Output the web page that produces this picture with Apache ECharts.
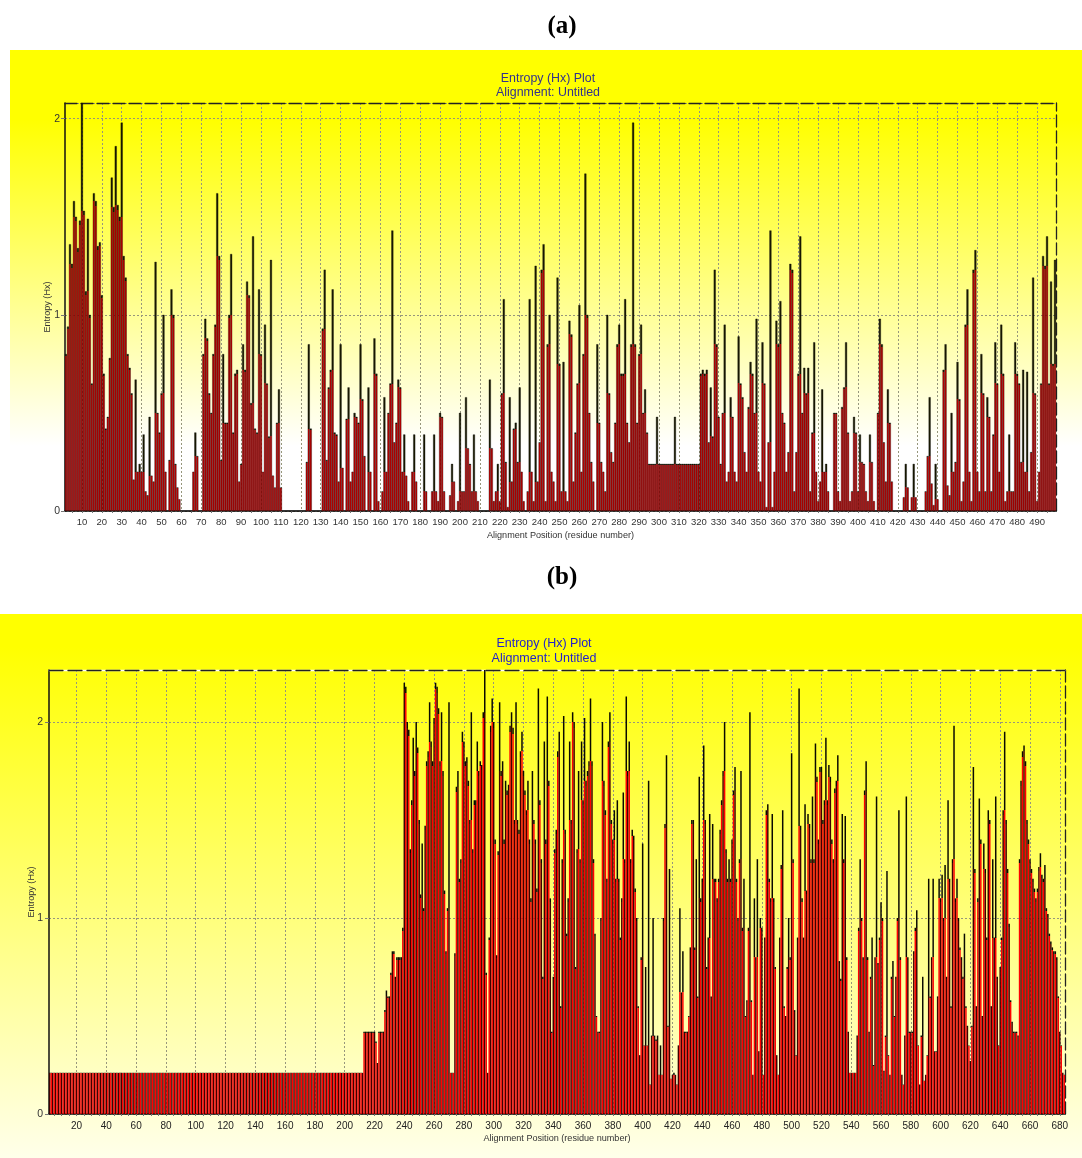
<!DOCTYPE html>
<html><head><meta charset="utf-8">
<script src="https://cdn.jsdelivr.net/npm/echarts@6/dist/echarts.min.js"></script>
<style>html,body{margin:0;padding:0;background:#fff}#c{width:1082px;height:1158px}</style></head>
<body><div id="c"></div>
<script>
// Panel (a): alignment positions 2..499
const aValues = [
.80,.94,1.36,1.26,1.58,1.5,1.34,1.48,
2.08,1.53,1.12,1.49,1.0,.65,1.62,1.58,1.35,1.37,
1.1,.7,.42,.48,.78,1.7,1.55,1.86,1.56,1.5,
1.98,1.3,1.19,.8,.73,.6,.16,.67,.2,.24,
.2,.39,.1,.08,.48,.18,.15,1.27,.5,.4,
.6,1.0,.2,0,.26,1.13,1.0,.24,.12,.06,
0,0,0,0,0,0,.2,.4,.28,0,
0,.8,.98,.88,.6,.5,.8,.95,1.62,1.3,
.26,.8,.45,.45,1.0,1.31,.4,.7,.72,.15,
.24,.85,.72,1.17,1.1,.55,1.4,.42,.4,1.13,
.8,.2,.95,.65,.38,1.28,.18,.12,.45,.62,
.12,0,0,0,0,0,0,0,0,0,
0,0,0,.25,.85,.42,0,0,0,0,
0,.93,1.23,.26,.63,.72,1.13,.4,.39,.15,
.85,.22,0,.47,.63,.15,.2,.5,.48,.45,
.85,.57,.28,0,.63,.2,0,.88,.7,.05,
0,.1,.58,.2,.5,.65,1.43,.35,.45,.67,
.63,.2,.39,.18,.05,0,.2,.39,.15,0,
0,0,.39,.1,0,0,.1,.39,.1,.05,
.5,.48,.1,0,0,.08,.24,.15,0,.05,
.5,.1,.1,.58,.32,.24,.1,.39,.1,.05,
0,0,0,0,0,.67,.32,.05,.1,.24,
.05,.6,1.08,.25,.02,.58,.15,.42,.45,.25,
.63,.2,.05,0,.1,1.08,.2,.05,1.25,.15,
.35,1.23,1.36,.05,.85,1.0,.2,.15,.05,1.19,
.75,.1,.76,.1,.05,.97,.9,.15,.4,.65,
1.05,.2,.8,1.72,1.0,.5,.25,.15,0,.85,
.45,.25,.2,.1,1.0,.6,.3,.25,.45,.85,
.95,.7,.7,1.08,.45,.35,.85,1.98,.85,.45,
.8,.95,.5,.62,.4,.24,.24,.24,.24,.48,
.24,.24,.24,.24,.24,.24,.24,.24,.48,.24,
.24,.24,.24,.24,.24,.24,.24,.24,.24,.24,
.24,.7,.72,.7,.72,.35,.63,.38,1.23,.85,
.48,.24,.5,.95,.15,.2,.58,.48,.2,.15,
.89,.65,.58,.3,.2,.53,.76,.7,.5,.98,
.2,.15,.86,.65,.02,.35,1.43,.02,.2,.97,
.85,1.07,.5,.45,.2,.3,1.26,1.23,.1,.3,
.7,1.4,.5,.73,.6,.73,.1,.4,.86,.2,
.05,.15,.62,.2,.24,.1,0,0,.5,.5,
.1,.05,.53,.63,.86,.4,.05,.1,.48,.4,
.1,.39,.25,.24,.1,.05,.39,.25,.05,0,
.5,.98,.85,.35,.15,.62,.45,.15,0,0,
0,0,0,.07,.24,.12,0,.07,.24,.07,
0,0,0,0,.1,.28,.58,.14,.03,.24,
.06,0,0,.72,.85,.13,.08,.5,.2,.25,
.76,.57,.05,.15,.95,1.13,.2,.05,1.23,1.33,
.2,.1,.8,.6,.1,.58,.48,.1,.39,.86,
.65,.2,.95,.7,.05,.1,.39,.1,.1,.86,
.7,.65,.25,.72,.2,.71,.1,.3,1.19,.6,
.05,.2,.65,1.3,1.25,1.4,.65,1.17,.75,1.28
];
// Panel (b): alignment positions 2..683
const bValues = [
.21,.21,.21,.21,.21,.21,.21,.21,
.21,.21,.21,.21,.21,.21,.21,.21,.21,.21,
.21,.21,.21,.21,.21,.21,.21,.21,.21,.21,
.21,.21,.21,.21,.21,.21,.21,.21,.21,.21,
.21,.21,.21,.21,.21,.21,.21,.21,.21,.21,
.21,.21,.21,.21,.21,.21,.21,.21,.21,.21,
.21,.21,.21,.21,.21,.21,.21,.21,.21,.21,
.21,.21,.21,.21,.21,.21,.21,.21,.21,.21,
.21,.21,.21,.21,.21,.21,.21,.21,.21,.21,
.21,.21,.21,.21,.21,.21,.21,.21,.21,.21,
.21,.21,.21,.21,.21,.21,.21,.21,.21,.21,
.21,.21,.21,.21,.21,.21,.21,.21,.21,.21,
.21,.21,.21,.21,.21,.21,.21,.21,.21,.21,
.21,.21,.21,.21,.21,.21,.21,.21,.21,.21,
.21,.21,.21,.21,.21,.21,.21,.21,.21,.21,
.21,.21,.21,.21,.21,.21,.21,.21,.21,.21,
.21,.21,.21,.21,.21,.21,.21,.21,.21,.21,
.21,.21,.21,.21,.21,.21,.21,.21,.21,.21,
.21,.21,.21,.21,.21,.21,.21,.21,.21,.21,
.21,.21,.21,.21,.21,.21,.21,.21,.21,.21,
.21,.21,.21,.21,.21,.21,.21,.21,.21,.21,
.21,.21,.21,.42,.42,.42,.42,.42,.42,.42,
.42,.37,.26,.42,.42,.42,.42,.53,.63,.6,
.6,.72,.83,.83,.7,.8,.8,.8,.8,.95,
2.2,2.18,2.0,1.96,1.35,1.6,1.92,1.75,2.0,1.87,
1.5,1.12,1.38,1.05,1.47,1.8,1.85,2.1,1.9,1.8,
2.02,2.2,2.18,2.07,1.8,2.05,1.75,1.14,.83,1.05,
2.1,.21,.21,.21,.82,1.67,1.75,1.2,1.3,1.95,
1.9,1.8,1.82,1.7,1.5,2.05,1.35,1.6,1.6,1.9,
1.75,1.8,1.78,2.05,2.27,.72,.21,.9,1.98,2.12,
2.0,1.4,.81,1.34,2.1,1.75,1.8,1.4,1.7,1.65,
1.68,1.98,2.05,1.97,1.5,2.1,1.5,1.45,1.85,1.95,
1.75,1.65,1.55,1.7,1.4,1.1,1.75,1.5,1.4,1.15,
2.17,1.6,1.3,.7,1.9,1.4,2.13,1.7,1.1,.42,
.7,1.35,1.45,1.85,1.95,.55,1.3,2.03,1.45,.92,
1.1,1.9,1.5,2.05,2.0,.75,1.35,1.75,1.3,1.9,
1.6,2.02,1.7,1.75,1.8,2.12,1.8,1.3,.92,.5,
.42,.42,1.0,2.0,1.7,1.55,1.2,1.9,2.05,1.5,
1.4,1.55,1.2,1.6,1.2,.9,1.1,1.64,1.3,2.13,
1.75,1.9,1.3,1.45,1.42,1.15,1.0,.55,.3,.8,
1.38,.35,.75,.35,1.7,.15,.4,1.0,.4,.38,
.4,.2,.35,.2,1.0,1.48,1.83,.45,1.25,.18,
.2,.21,.2,.15,.35,1.05,.62,.83,.42,.42,
.42,.5,.85,1.5,1.5,.85,1.3,.6,1.72,1.1,
1.2,1.88,1.5,.75,.9,1.53,.6,1.48,1.2,1.2,
1.1,1.2,1.45,1.6,1.75,2.0,1.35,1.2,1.3,1.2,
1.4,1.65,1.77,1.2,1.0,1.3,1.75,.95,1.2,.5,
.58,.95,2.05,.58,.2,1.1,.8,1.3,.32,1.0,
.95,.2,.9,1.55,1.58,1.2,1.1,1.53,1.1,.75,
.3,.2,.9,1.27,1.55,.55,.5,.75,1.0,.8,
1.84,1.3,.53,.3,.9,2.17,1.47,1.1,.9,1.58,
1.14,1.53,1.48,1.3,1.62,1.3,1.89,1.72,1.4,1.77,
1.77,1.5,1.6,1.92,1.6,1.78,1.72,1.4,1.3,1.66,
1.7,1.83,.78,.69,1.53,1.3,1.52,.8,.42,.21,
.21,.21,.21,.21,.4,.95,1.3,1.0,.8,1.65,
1.8,.8,.42,.7,.9,.25,.8,1.62,.77,.9,
1.08,1.0,.22,.4,1.24,.3,.2,.7,.78,.5,
.7,1.0,1.55,.8,.2,.15,.4,1.62,.8,.42,
.42,.42,.83,.95,1.04,.35,.15,.4,.7,.17,
.2,.3,1.2,.6,.8,1.2,.32,.32,.6,1.2,
1.1,1.22,1.0,1.27,.7,1.6,1.2,.55,1.3,1.98,
1.1,1.2,1.0,.85,.8,.7,.92,.55,.45,.35,
.27,.45,1.77,1.25,.55,1.1,1.61,1.4,.5,1.38,
1.25,.9,1.55,1.5,.55,1.3,.9,1.62,.7,.35,
.75,.9,1.55,1.95,1.5,1.25,.97,.58,.47,.42,
.42,.42,.4,1.3,1.7,1.85,1.88,1.8,1.5,1.4,
1.3,1.25,1.2,1.15,1.1,1.15,1.26,1.33,1.22,1.2,
1.27,1.05,1.02,.92,.88,.85,.83,.83,.8,.6,
.42,.35,.21,.2
];
const aCategories = aValues.map((_, i) => i + 2);
const bCategories = bValues.map((_, i) => i + 2);
const titleMain = 'Entropy (Hx) Plot';
const titleSub = 'Alignment: Untitled';
const xName = 'Alignment Position (residue number)';
const yName = 'Entropy (Hx)';
const yTicks = [0, 1, 2];

const FONT = '"Liberation Sans", Arial, sans-serif';
const chart = echarts.init(document.getElementById('c'), null, {renderer: 'canvas'});
const hiddenTop = (gridIndex, position, color, dash, data) => ({
  type: 'category', gridIndex, position, data, boundaryGap: true,
  axisLine: {show: true, onZero: false, lineStyle: {color, width: 1.3, type: dash}},
  axisTick: {show: false}, axisLabel: {show: false}, splitLine: {show: false}
});
function xMain(gridIndex, data, step, fontSize, labelColor) {
  const every = v => Number(v) % step === 0;
  return {
    type: 'category', gridIndex, data, position: 'bottom', boundaryGap: true,
    name: xName, nameLocation: 'middle', nameGap: 20, nameMoveOverlap: false,
    nameTextStyle: {fontFamily: FONT, fontSize: 9.1, color: '#333'},
    axisLine: {show: true, onZero: false, lineStyle: {color: '#111', width: 1.5}},
    axisTick: {show: true, alignWithLabel: true, length: 2, interval: (i, v) => Number(v) % 5 === 0, lineStyle: {color: '#777', width: 1}},
    axisLabel: {show: true, interval: (i, v) => every(v), fontFamily: FONT, fontSize, color: labelColor, margin: step === 10 ? 6 : 7, hideOverlap: false},
    splitLine: {show: true, alignWithLabel: true, interval: (i, v) => every(v), lineStyle: {color: '#96967c', width: 1, type: [2, 2]}}
  };
}
function yMain(gridIndex, max, margin) {
  return {
    type: 'value', gridIndex, position: 'left', min: 0, max, interval: yTicks[1] - yTicks[0],
    name: yName, nameLocation: 'middle', nameGap: 13, nameMoveOverlap: false,
    nameTextStyle: {fontFamily: FONT, fontSize: 9.1, color: '#333'},
    axisLine: {show: true, onZero: false, lineStyle: {color: '#111', width: 1.5}},
    axisTick: {show: true, length: 4, lineStyle: {color: '#777'}},
    axisLabel: {showMaxLabel: false, fontFamily: FONT, fontSize: 10.5, color: '#333', margin,
      formatter: v => yTicks.includes(v) ? String(v) : ''},
    splitLine: {show: true, lineStyle: {color: '#96967c', width: 1, type: [2, 2]}}
  };
}
const yRight = (gridIndex, max) => ({
  type: 'value', gridIndex, position: 'right', min: 0, max, interval: 1,
  axisLine: {show: true, onZero: false, lineStyle: {color: '#222', width: 1.3, type: [12, 4]}},
  axisTick: {show: false}, axisLabel: {show: false}, splitLine: {show: false}
});
// Bars are red with a dark tip where a bar stands above both neighbours (the reference's black outlines merge there).
function styled(values, redFor, tip) {
  return values.map((v, i) => {
    const red = redFor(i);
    if (!v) return {value: v, itemStyle: {color: red}};
    const base = Math.max(values[i - 1] || 0, values[i + 1] || 0);
    const f = Math.min(base / v, 0.985);
    return {value: v, itemStyle: {color: new echarts.graphic.LinearGradient(0, 0, 0, 1, [
      {offset: 0, color: tip}, {offset: 1 - f, color: tip},
      {offset: 1 - f, color: red}, {offset: 1, color: red}])}};
  });
}
chart.setOption({
  animation: false,
  backgroundColor: '#ffffff',
  graphic: [
    {type: 'rect', z: -10, silent: true, shape: {x: 10, y: 50, width: 1072, height: 495},
      style: {fill: new echarts.graphic.LinearGradient(0, 0, 0, 1, [
        {offset: 0, color: '#ffff00'}, {offset: 0.14, color: '#ffff00'}, {offset: 0.8, color: '#ffffff'}, {offset: 1, color: '#ffffff'}])}},
    {type: 'rect', z: -10, silent: true, shape: {x: 0, y: 614, width: 1082, height: 544},
      style: {fill: new echarts.graphic.LinearGradient(0, 0, 0, 1, [
        {offset: 0, color: '#ffff00'}, {offset: 0.06, color: '#ffff00'}, {offset: 1, color: '#ffffea'}])}}
  ],
  title: [
    {text: '(a)', left: 557, top: 9, textAlign: 'center', textStyle: {fontFamily: '"Liberation Serif", serif', fontWeight: 'bold', fontSize: 25, color: '#000'}},
    {text: '(b)', left: 557, top: 560, textAlign: 'center', textStyle: {fontFamily: '"Liberation Serif", serif', fontWeight: 'bold', fontSize: 25, color: '#000'}},
    {text: titleMain + '\n' + titleSub, left: 543, top: 66, textAlign: 'center', textStyle: {fontFamily: FONT, fontWeight: 'normal', fontSize: 12.4, lineHeight: 14.5, color: '#33338c'}},
    {text: titleMain + '\n' + titleSub, left: 539, top: 631, textAlign: 'center', textStyle: {fontFamily: FONT, fontWeight: 'normal', fontSize: 12.5, lineHeight: 15, color: '#2222cc'}}
  ],
  grid: [
    {left: 65, top: 103, width: 991, height: 408},
    {left: 49, top: 670, width: 1016, height: 444}
  ],
  xAxis: [
    xMain(0, aCategories, 10, 9.5, '#333'),
    hiddenTop(0, 'top', '#222', [12, 4], aCategories),
    xMain(1, bCategories, 20, 10, '#222'),
    hiddenTop(1, 'top', '#ffffff', 'solid', bCategories),
    hiddenTop(1, 'top', '#222', [14, 5], bCategories)
  ],
  yAxis: [yMain(0, 2.08, 5), yRight(0, 2.08), yMain(1, 2.265, 6), yRight(1, 2.265)],
  series: [
    {type: 'bar', name: 'a', xAxisIndex: 0, yAxisIndex: 0, barWidth: '100%', silent: true, z: 2,
      data: styled(aValues, () => '#c40000', '#1a1a00'),
      itemStyle: {borderColor: '#000', borderWidth: 0.35}},
    {type: 'bar', name: 'b', xAxisIndex: 2, yAxisIndex: 2, barWidth: '100%', silent: true, z: 2,
      data: styled(bValues, i => (i % 2 ? '#ff0000' : '#400000'), '#0a0a00')}
  ]
});
</script></body></html>
